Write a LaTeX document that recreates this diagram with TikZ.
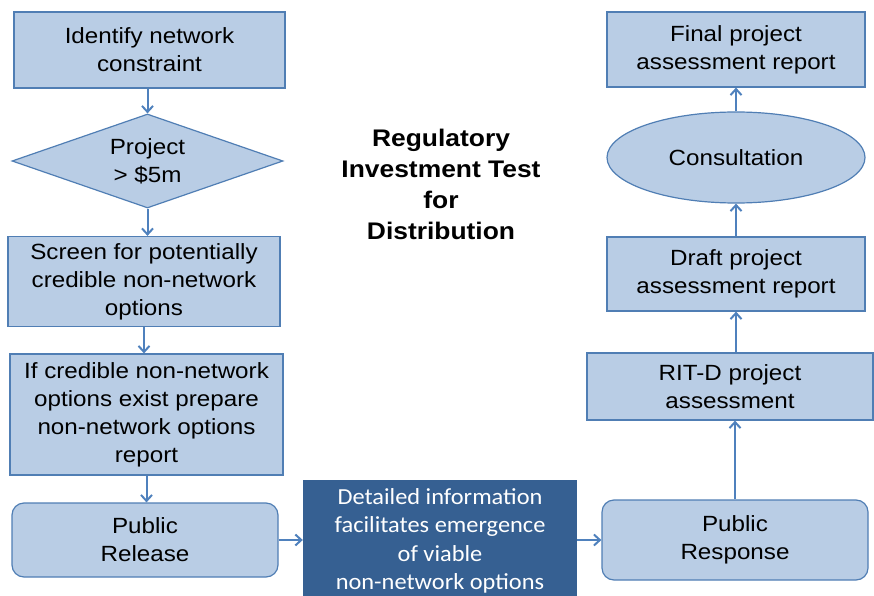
\documentclass[tikz,border=0pt]{standalone}
\usepackage{fontspec}
\setmainfont{Liberation Sans}[FakeStretch=1.1]
\newfontfamily\calibri{Carlito}[FakeStretch=1.06]
\usetikzlibrary{shapes.geometric,arrows.meta}
\definecolor{boxfill}{RGB}{185,205,229}
\definecolor{boxline}{RGB}{80,126,180}
\definecolor{darkfill}{RGB}{54,96,146}
\definecolor{arrowblue}{RGB}{79,129,189}
\tikzstyle{box}=[rectangle,draw=boxline,fill=boxfill,line width=1.2pt,align=center,inner sep=2pt,font=\fontsize{22}{28}\selectfont]
\tikzstyle{roundbox}=[box,rounded corners=12pt]
\tikzstyle{decision}=[box,diamond,aspect=2.9,inner sep=0pt]
\tikzstyle{oval}=[box,ellipse,inner sep=0pt]
\tikzstyle{darkbox}=[rectangle,fill=darkfill,text=white,align=center,font=\calibri\fontsize{23}{28.5}\selectfont]
\tikzstyle{link}=[draw=arrowblue,line width=2pt,-{Straight Barb[length=6pt,width=11pt]}]

\begin{document}
\begin{tikzpicture}[x=1pt,y=-1pt]
		\clip (0,0) rectangle (874,596);
		
		\node (ident) at (149.5,50) [box,minimum width=271,minimum height=76] {Identify network\\constraint};
		\node (proj) at (147.5,161) [decision,minimum width=271,minimum height=94] {Project\\> \$5m};
		\node (screen) at (144,281.5) [box,minimum width=272,minimum height=90] {Screen for potentially\\credible non-network\\options};
		\node (prep) at (146.5,414.5) [box,minimum width=273,minimum height=121] {If credible non-network\\options exist prepare\\non-network options\\report};
		\node (release) at (145,540) [roundbox,minimum width=266,minimum height=74] {Public\\Release};
		\node (detail) at (440,541) [darkbox,minimum width=274,minimum height=122] {Detailed information\\facilitates emergence\\of viable\\non-network options};
		\node (response) at (735,540) [roundbox,minimum width=266,minimum height=80] {Public\\Response};
		\node (ritd) at (730,386.5) [box,minimum width=286,minimum height=67] {RIT-D project\\assessment};
		\node (draft) at (736,274) [box,minimum width=258,minimum height=74] {Draft project\\assessment report};
		\node (consult) at (736,157.5) [oval,minimum width=258,minimum height=91] {Consultation};
		\node (final) at (736,49.5) [box,minimum width=258,minimum height=75] {Final project\\assessment report};
		\node (title) at (441,184) [font=\fontsize{24}{31}\selectfont\bfseries,align=center] {Regulatory\\Investment Test\\for\\Distribution};
		
		\draw [link] (proj.north |- ident.south) -- (proj.north);
		\draw [link] (proj.south) -- (proj.south |- screen.north);
		\draw [link] (screen.south) -- (screen.south |- prep.north);
		\draw [link] (prep.south) -- (prep.south |- release.north);
		\draw [link] (release.east) -- (release.east -| detail.west);
		\draw [link] (response.west -| detail.east) -- (response.west);
		\draw [link] (response.north) -- (response.north |- ritd.south);
		\draw [link] (draft.south |- ritd.north) -- (draft.south);
		\draw [link] (draft.north) -- (consult.south);
		\draw [link] (consult.north) -- (final.south);
	\end{tikzpicture}
\end{document}
